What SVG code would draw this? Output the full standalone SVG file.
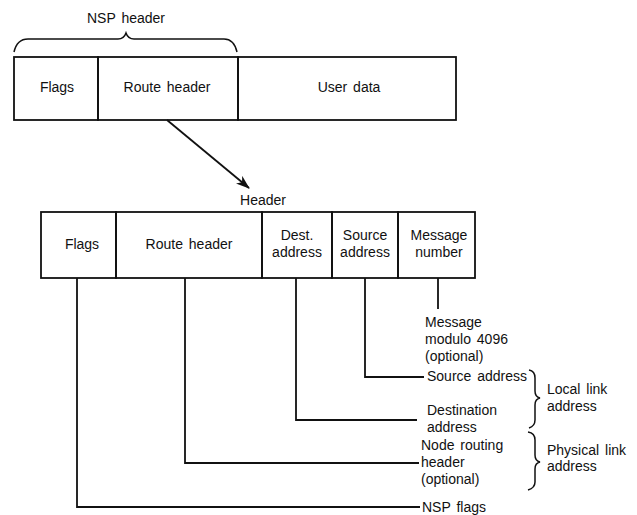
<svg xmlns="http://www.w3.org/2000/svg" width="637" height="515" viewBox="0 0 637 515">
<style>
text{font-family:"Liberation Sans",Arial,sans-serif;font-size:14px;fill:#111;word-spacing:2px}
.c{text-anchor:middle}
.box{fill:none;stroke:#111;stroke-width:1.8}
.ln{fill:none;stroke:#111;stroke-width:1.8}
.br{fill:none;stroke:#111;stroke-width:1.5}
</style>
<defs>
<marker id="ah" markerWidth="14" markerHeight="10" refX="13" refY="5" orient="auto" markerUnits="userSpaceOnUse">
<path d="M0,0 L14,5 L0,10 L4,5 Z" fill="#111"/>
</marker>
</defs>
<rect width="637" height="515" fill="#fff"/>

<g id="nsp-brace">
<path class="br" d="M14,52 Q17,39 28,39 L118,39 Q124,39 126,33 Q128,39 134,39 L224,39 Q234,39 237,52"/>
<text class="c" x="126" y="23">NSP header</text>
</g>

<g id="top-flags"><rect class="box" x="14" y="57" width="84" height="63"/><text class="c" x="57" y="92">Flags</text></g>
<g id="top-route"><rect class="box" x="98" y="57" width="140" height="63"/><text class="c" x="167" y="92">Route header</text></g>
<g id="top-user"><rect class="box" x="238" y="57" width="218" height="63"/><text class="c" x="349" y="92">User data</text></g>

<g id="header-label"><text class="c" x="263" y="205">Header</text></g>

<g id="b-flags"><rect class="box" x="41" y="212" width="75" height="66"/><text class="c" x="82" y="249">Flags</text></g>
<g id="b-route"><rect class="box" x="116" y="212" width="146" height="66"/><text class="c" x="189" y="249">Route header</text></g>
<g id="b-dest"><rect class="box" x="262" y="212" width="70" height="66"/><text class="c" x="297" y="240">Dest.</text><text class="c" x="297" y="257">address</text></g>
<g id="b-source"><rect class="box" x="332" y="212" width="66" height="66"/><text class="c" x="365" y="240">Source</text><text class="c" x="365" y="257">address</text></g>
<g id="b-msg"><rect class="box" x="398" y="212" width="77" height="66"/><text class="c" x="439" y="240">Message</text><text class="c" x="439" y="257">number</text></g>

<g id="connectors">
<line class="ln" x1="167" y1="120" x2="249" y2="188" marker-end="url(#ah)"/>
<polyline class="ln" points="438,278 438,309"/>
<polyline class="ln" points="365,278 365,377 424,377"/>
<polyline class="ln" points="296,278 296,420 417,420"/>
<polyline class="ln" points="185,278 185,463 419,463"/>
<polyline class="ln" points="77,278 77,507 420,507"/>
</g>

<g id="lbl-msg"><text x="425" y="327">Message</text><text x="425" y="344">modulo 4096</text><text x="425" y="361">(optional)</text></g>
<g id="lbl-src"><text x="427" y="381">Source address</text></g>
<g id="lbl-dest"><text x="427" y="415">Destination</text><text x="427" y="432">address</text></g>
<g id="lbl-node"><text x="421" y="450">Node routing</text><text x="421" y="467">header</text><text x="421" y="484">(optional)</text></g>
<g id="lbl-nsp"><text x="422" y="512">NSP flags</text></g>

<g id="local-brace">
<path class="br" d="M529,370 Q535,371 535,378 L535,391 Q535,397 540,398 Q535,399 535,405 L535,420 Q535,426 529,428"/>
<text x="547" y="394">Local link</text><text x="547" y="411">address</text>
</g>
<g id="phys-brace">
<path class="br" d="M528,432 Q535,433 535,440 L535,455 Q535,461 540,462 Q535,463 535,469 L535,482 Q535,488 528,490"/>
<text x="547" y="455">Physical link</text><text x="547" y="471">address</text>
</g>
</svg>
